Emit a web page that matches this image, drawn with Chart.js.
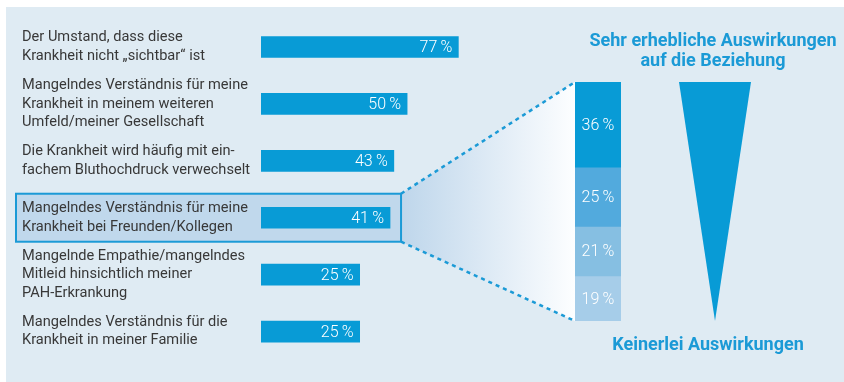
<!DOCTYPE html>
<html>
<head>
<meta charset="utf-8">
<script src="https://cdn.jsdelivr.net/npm/chart.js@4.4.1/dist/chart.umd.min.js"></script>
<style>
    body { margin: 0; background: #fff; }
    #wrap { position: relative; width: 844px; height: 382px; }
    #panel { position: absolute; left: 6px; top: 7px; right: 0; bottom: 0; background: #dfebf3; }
    canvas { position: absolute; left: 0; top: 0; }
</style>
</head>
<body>
<div id="wrap">
    <div id="panel"></div>
    <canvas id="chartReasons" width="844" height="382"></canvas>
    <canvas id="chartImpact" width="844" height="382"></canvas>
</div>
<script>
const reasonLabels = [
    ["Der Umstand, dass diese", "Krankheit nicht „sichtbar“ ist"],
    ["Mangelndes Verständnis für meine", "Krankheit in meinem weiteren", "Umfeld/meiner Gesellschaft"],
    ["Die Krankheit wird häufig mit ein-", "fachem Bluthochdruck verwechselt"],
    ["Mangelndes Verständnis für meine", "Krankheit bei Freunden/Kollegen"],
    ["Mangelnde Empathie/mangelndes", "Mitleid hinsichtlich meiner", "PAH-Erkrankung"],
    ["Mangelndes Verständnis für die", "Krankheit in meiner Familie"]
]
const reasonValues = [77, 50, 43, 41, 25, 25]
const highlightedReason = 3

const impactValues = [36, 25, 21, 19]
const impactColors = ["#089bd6", "#52aadd", "#86bfe2", "#a6cde9"]

const topTitle = ["Sehr erhebliche Auswirkungen", "auf die Beziehung"]
const bottomTitle = "Keinerlei Auswirkungen"

const BLUE = "#089bd6"
const TITLE_BLUE = "#1b9ad6"
const FONT = "Roboto, 'DejaVu Sans', sans-serif"
// where the stacked column sits, shared by both charts
const COL = { left: 575, right: 621, top: 82, bottom: 321 }

const pct = v => v + "\u2009%"

const highlightPlugin = {
    id: "highlight",
    beforeDraw(chart) {
        const ctx = chart.ctx
        const bar = chart.getDatasetMeta(0).data[highlightedReason]
        const x0 = 16, x1 = bar.x + 11
        const y0 = bar.y - 24, y1 = bar.y + 24
        ctx.save()
        // funnel towards the column
        const grad = ctx.createLinearGradient(x1, 0, COL.left, 0)
        grad.addColorStop(0, "rgb(190,214,235)")
        grad.addColorStop(1, "rgb(253,254,255)")
        ctx.fillStyle = grad
        ctx.beginPath()
        ctx.moveTo(x1, y0)
        ctx.lineTo(COL.left, COL.top)
        ctx.lineTo(COL.left, COL.bottom)
        ctx.lineTo(x1, y1)
        ctx.closePath()
        ctx.fill()
        ctx.strokeStyle = TITLE_BLUE
        ctx.lineWidth = 2.5
        ctx.setLineDash([4, 4])
        ctx.beginPath()
        ctx.moveTo(x1, y0)
        ctx.lineTo(COL.left, COL.top)
        ctx.moveTo(x1, y1)
        ctx.lineTo(COL.left, COL.bottom)
        ctx.stroke()
        // box round the row
        ctx.setLineDash([])
        ctx.fillStyle = "rgb(192,216,236)"
        ctx.fillRect(x0, y0, x1 - x0, y1 - y0)
        ctx.lineWidth = 2
        ctx.strokeRect(x0, y0, x1 - x0, y1 - y0)
        ctx.restore()
    }
}

const valueLabelPlugin = {
    id: "valueLabels",
    afterDatasetsDraw(chart) {
        const ctx = chart.ctx
        ctx.save()
        ctx.fillStyle = "#fff"
        ctx.font = "300 16px " + FONT
        ctx.textAlign = "right"
        ctx.textBaseline = "middle"
        chart.getDatasetMeta(0).data.forEach((bar, i) => {
            ctx.fillText(pct(reasonValues[i]), bar.x - 6, bar.y + 1)
        })
        ctx.restore()
    }
}

new Chart(
    document.getElementById("chartReasons").getContext("2d"),
    {
        type: "bar",
        data: {
            labels: reasonLabels,
            datasets: [{
                data: reasonValues,
                base: -27,
                backgroundColor: BLUE,
                barThickness: 21
            }]
        },
        options: {
            indexAxis: "y",
            responsive: false,
            animation: false,
            layout: { padding: { left: 22, top: 5, right: 342, bottom: 22 } },
            scales: {
                x: { min: -27, max: 100, display: false },
                y: {
                    afterFit: s => { s.width = 239 },
                    grid: { display: false },
                    border: { display: false },
                    ticks: {
                        crossAlign: "far",
                        padding: 0,
                        color: "#383838",
                        font: { family: FONT, size: 14.6, lineHeight: 1.27 }
                    }
                }
            },
            plugins: {
                legend: { display: false },
                tooltip: { enabled: false }
            }
        },
        plugins: [highlightPlugin, valueLabelPlugin]
    }
)

const impactPlugin = {
    id: "impactDecor",
    afterDatasetsDraw(chart) {
        const ctx = chart.ctx
        const area = chart.chartArea
        ctx.save()
        // segment labels
        ctx.fillStyle = "#fff"
        ctx.font = "300 16px " + FONT
        ctx.textAlign = "center"
        ctx.textBaseline = "middle"
        chart.data.datasets.forEach((ds, i) => {
            const seg = chart.getDatasetMeta(i).data[0]
            ctx.fillText(pct(impactValues[i]), seg.x, (seg.y + seg.base) / 2 + 1)
        })
        // wedge
        ctx.fillStyle = BLUE
        ctx.beginPath()
        ctx.moveTo(679, area.top)
        ctx.lineTo(751, area.top)
        ctx.lineTo(715, area.bottom)
        ctx.closePath()
        ctx.fill()
        // titles
        ctx.fillStyle = TITLE_BLUE
        ctx.font = "bold 18px " + FONT
        ctx.fillText(topTitle[0], 713, 41)
        ctx.fillText(topTitle[1], 713, 61)
        ctx.fillText(bottomTitle, 708, 345)
        ctx.restore()
    }
}

new Chart(
    document.getElementById("chartImpact").getContext("2d"),
    {
        type: "bar",
        data: {
            labels: [""],
            datasets: impactValues.map((v, i) => ({
                data: [v],
                backgroundColor: impactColors[i],
                barPercentage: 1,
                categoryPercentage: 1
            }))
        },
        options: {
            responsive: false,
            animation: false,
            layout: { padding: { left: COL.left, right: 844 - COL.right, top: COL.top, bottom: 382 - COL.bottom } },
            scales: {
                x: { stacked: true, display: false },
                y: { stacked: true, display: false, reverse: true, min: 0, max: 101 }
            },
            plugins: {
                legend: { display: false },
                tooltip: { enabled: false }
            }
        },
        plugins: [impactPlugin]
    }
)
</script>
</body>
</html>
